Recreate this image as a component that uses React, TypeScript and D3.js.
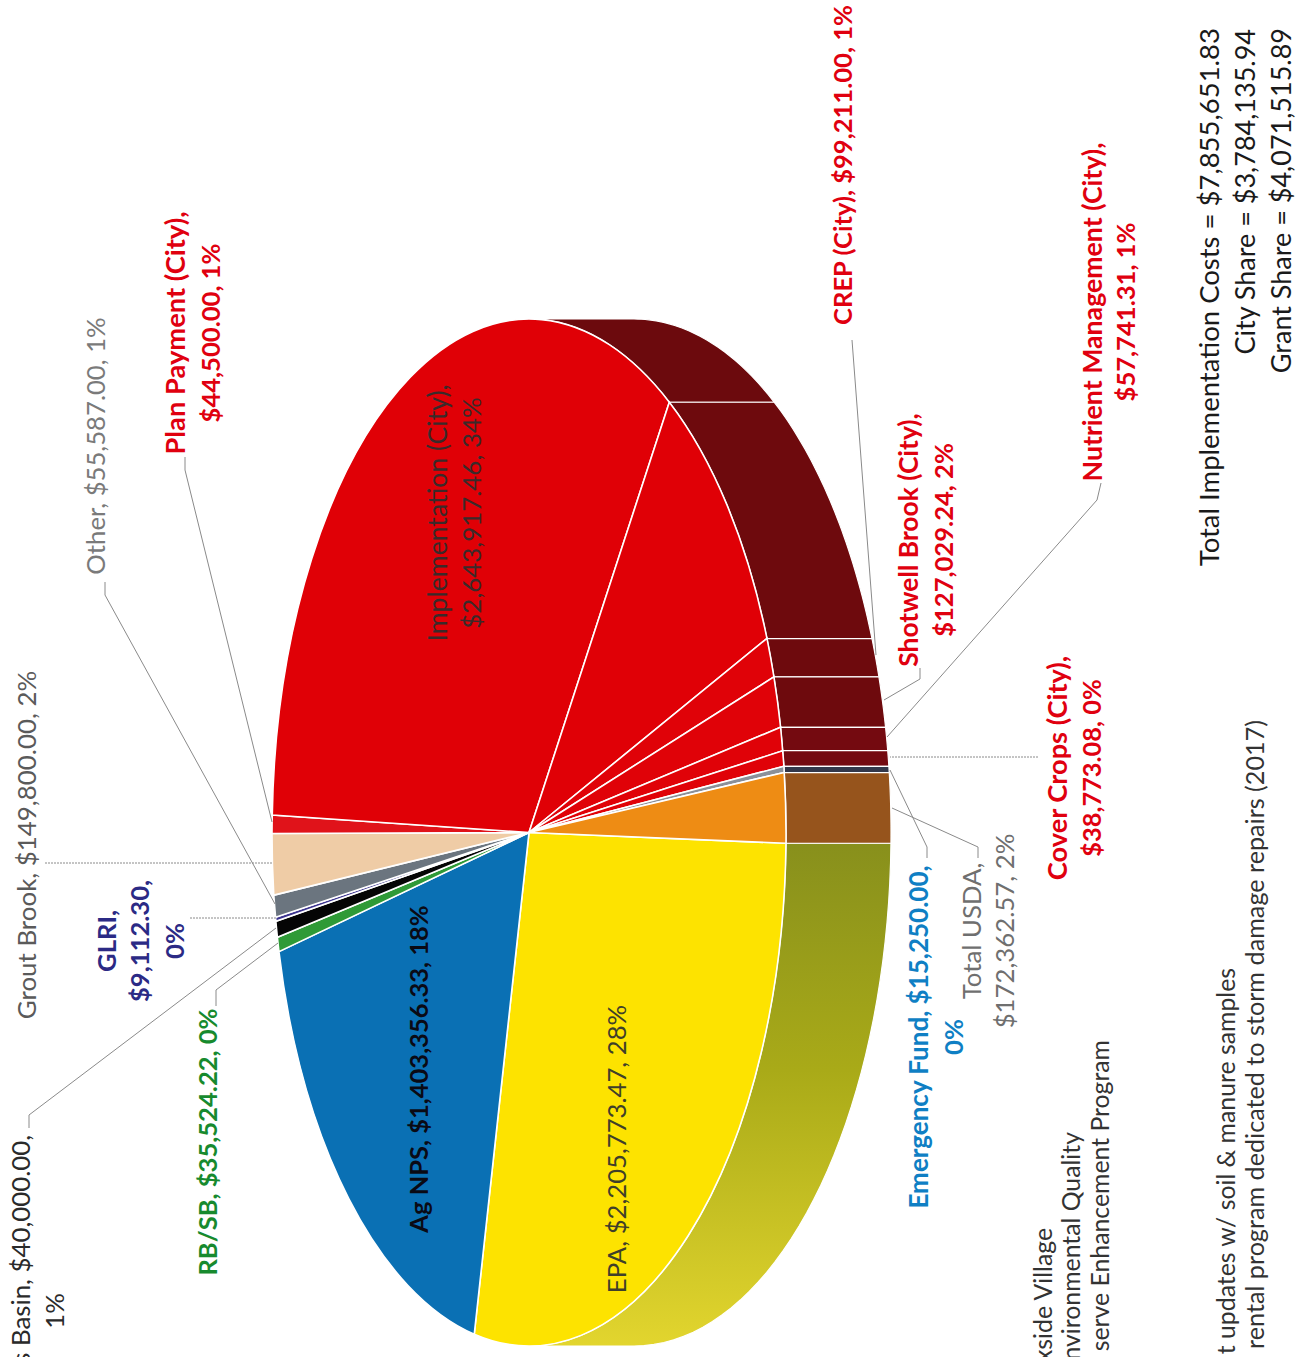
import React from "react";
import * as d3 from "d3";

const sliceNames = ["EPA","Ag NPS","RB/SB","Basin","GLRI","Other","Grout Brook","Plan Payment (City)","Implementation (City)","Unlabelled (City)","CREP (City)","Shotwell Brook (City)","Nutrient Management (City)","Cover Crops (City)","Emergency Fund","Total USDA"];
const sliceValues = [2205773.47,1403356.33,35524.22,40000,9112.3,55587,149800,44500,2643917.46,757713.85,99211,127029.24,57741.31,38773.08,15250,172362.57];
const topFills = ["#fde300","#0a70b4","#2f9a37","#050505","#3d3590","#6b757f","#efcca6","#e0131a","#e00006","#e00006","#e00208","#e00208","#e00208","#e00208","#8b9099","#ee8c14"];
const sideFills = ["url(#epaSide)","#07406b","#1a5a20","#111","#222","#3a3f48","#8f7a60","#6c0a0d","#6c0a0d","#6e0a0d","#6e0a0d","#6e0a0d","#740a10","#740a10","#33384a","#96541c"];

const W = 1308, H = 1357;
const cx = 529, cy = 832.5, rx = 257, ry = 513.5, depth = 105;
const startDeg = 91.2;
const rad = (d: number) => (d * Math.PI) / 180;

const pieGen = d3.pie<number>().sort(null).value((d) => d).startAngle(rad(startDeg)).endAngle(rad(startDeg + 360));
const arcs = pieGen(sliceValues);
const arcGen = d3.arc<d3.PieArcDatum<number>>().innerRadius(0).outerRadius(1);
const lineGen = d3.line<[number, number]>();
const pt = (a: number, dx = 0): [number, number] => [cx + dx + rx * Math.sin(a), cy - ry * Math.cos(a)];

function sidePaths(a0: number, a1: number): string[] {
  const out: string[] = [];
  for (const [lo, hi] of [[0, Math.PI], [2 * Math.PI, 3 * Math.PI]]) {
    const s = Math.max(a0, lo), e = Math.min(a1, hi);
    if (e <= s) continue;
    const ts = d3.range(0, 41).map((i) => s + ((e - s) * i) / 40);
    out.push((lineGen([...ts.map((t) => pt(t)), ...ts.slice().reverse().map((t) => pt(t, depth))]) as string) + "Z");
  }
  return out;
}

type Lab = { lines: string[]; xs: number[]; y: number; color: string; weight?: number; anchor?: string; size: number[] };
const RED = "#e0000f";
const labels: Lab[] = [
  { lines: ["CREP (City), $99,211.00, 1%"], xs: [852], y: 165, color: RED, weight: 700, size: [25.6] },
  { lines: ["Nutrient Management (City),", "$57,741.31, 1%"], xs: [1102, 1135], y: 312, color: RED, weight: 700, size: [26.7, 25.6] },
  { lines: ["Shotwell Brook (City),", "$127,029.24, 2%"], xs: [918, 953], y: 540, color: RED, weight: 700, size: [26.4, 25.6] },
  { lines: ["Cover Crops (City),", "$38,773.08, 0%"], xs: [1067, 1101], y: 768, color: RED, weight: 700, size: [27.2, 25.4] },
  { lines: ["Emergency Fund, $15,250.00,", "0%"], xs: [928, 963], y: 1037, color: "#0f7fc4", weight: 700, size: [26, 25.6] },
  { lines: ["Total USDA,", "$172,362.57, 2%"], xs: [981, 1014], y: 931, color: "#6f6f6f", size: [25.8, 25.8] },
  { lines: ["EPA, $2,205,773.47, 28%"], xs: [626], y: 1149, color: "#3f3f2a", size: [25.7] },
  { lines: ["Ag NPS, $1,403,356.33, 18%"], xs: [428], y: 1069, color: "#0a0a14", weight: 700, size: [25.5] },
  { lines: ["Implementation (City),", "$2,643,917.46, 34%"], xs: [447, 481], y: 513, color: "#3a2a2a", size: [26.6, 25.9] },
  { lines: ["RB/SB, $35,524.22, 0%"], xs: [217], y: 1142, color: "#178a2e", weight: 700, size: [25.6] },
  { lines: ["GLRI,", "$9,112.30,", "0%"], xs: [116, 149, 184], y: 941, color: "#2b2a85", weight: 700, size: [25.6, 25.6, 25.6] },
  { lines: ["s Basin, $40,000.00,"], xs: [30], y: 1135, color: "#2a2a2a", anchor: "end", size: [25.8] },
  { lines: ["1%"], xs: [64], y: 1311, color: "#2a2a2a", size: [25.8] },
  { lines: ["Grout Brook, $149,800.00, 2%"], xs: [36], y: 845, color: "#5a5a5a", size: [25.9] },
  { lines: ["Other, $55,587.00, 1%"], xs: [105], y: 446, color: "#7a7a7a", size: [25.7] },
  { lines: ["Plan Payment (City),", "$44,500.00, 1%"], xs: [185, 220], y: 333, color: RED, weight: 700, size: [27.3, 25.6] },
  { lines: ["Total Implementation Costs = $7,855,651.83"], xs: [1219], y: 28, color: "#1a1a1a", anchor: "end", size: [27.5] },
  { lines: ["City Share = $3,784,135.94"], xs: [1255], y: 29, color: "#1a1a1a", anchor: "end", size: [27] },
  { lines: ["Grant Share = $4,071,515.89"], xs: [1291], y: 28, color: "#1a1a1a", anchor: "end", size: [27] },
  { lines: ["xside Village"], xs: [1052], y: 1228, color: "#333", anchor: "end", size: [24.8] },
  { lines: ["nvironmental Quality"], xs: [1080], y: 1132, color: "#333", anchor: "end", size: [24.8] },
  { lines: ["serve Enhancement Program"], xs: [1109], y: 1040, color: "#333", anchor: "end", size: [24.8] },
  { lines: ["t updates w/ soil & manure samples"], xs: [1235], y: 968, color: "#333", anchor: "end", size: [24.8] },
  { lines: ["rental program dedicated to storm damage repairs (2017)"], xs: [1264], y: 720, color: "#333", anchor: "end", size: [25.2] },
];

const leaders: { pts: [number, number][]; dash?: string }[] = [
  { pts: [[852, 340], [876, 655]] },
  { pts: [[920, 668], [920, 679], [884, 700]] },
  { pts: [[1101, 483], [1097, 500], [887, 737]] },
  { pts: [[1038, 757], [890, 757]], dash: "2 1" },
  { pts: [[927, 858], [927, 847], [890, 770]] },
  { pts: [[978, 858], [978, 847], [892, 808]] },
  { pts: [[45, 863], [273, 863]], dash: "2 1" },
  { pts: [[190, 918], [276, 918]], dash: "2 1" },
  { pts: [[105, 582], [105, 595], [275, 904]] },
  { pts: [[185, 457], [185, 470], [272, 822]] },
  { pts: [[29, 1128], [29, 1115], [276, 928]] },
  { pts: [[216, 1006], [216, 990], [278, 943]] },
];

export default function App() {
  return (
    <svg width={W} height={H} viewBox={`0 0 ${W} ${H}`} style={{ position: "absolute", left: 0, top: 0, display: "block", background: "#fff" }}>
      <defs>
        <linearGradient id="epaSide" gradientUnits="userSpaceOnUse" x1="0" y1="845" x2="0" y2="1345">
          <stop offset="0" stopColor="#88901c" />
          <stop offset="0.45" stopColor="#a9aa18" />
          <stop offset="1" stopColor="#e2d52e" />
        </linearGradient>
      </defs>
      <g>
        {arcs.flatMap((a, i) =>
          sidePaths(a.startAngle, a.endAngle).map((d, j) => (
            <path key={`s${i}-${j}`} d={d} fill={sideFills[i]} stroke="#fff" strokeWidth={1.2} />
          ))
        )}
      </g>
      <g transform={`translate(${cx},${cy}) scale(${rx},${ry})`}>
        {arcs.map((a, i) => (
          <path key={sliceNames[i]} d={arcGen(a) as string} fill={topFills[i]} stroke="#fff" strokeWidth={1.6} vectorEffect="non-scaling-stroke" />
        ))}
      </g>
      <g fill="none" stroke="#8a8a8a" strokeWidth={1}>
        {leaders.map((l, i) => (
          <path key={i} d={lineGen(l.pts) as string} strokeDasharray={l.dash} />
        ))}
      </g>
      <g fontFamily="Lato, 'Open Sans', sans-serif">
        {labels.flatMap((l, i) =>
          l.lines.map((t, j) => (
            <text
              key={`${i}-${j}`}
              transform={`translate(${l.xs[j]},${l.y}) rotate(-90)`}
              textAnchor={l.anchor ?? "middle"}
              fill={l.color}
              fontWeight={l.weight ?? 400}
              fontSize={l.size[j]}
            >
              {t}
            </text>
          ))
        )}
      </g>
    </svg>
  );
}
